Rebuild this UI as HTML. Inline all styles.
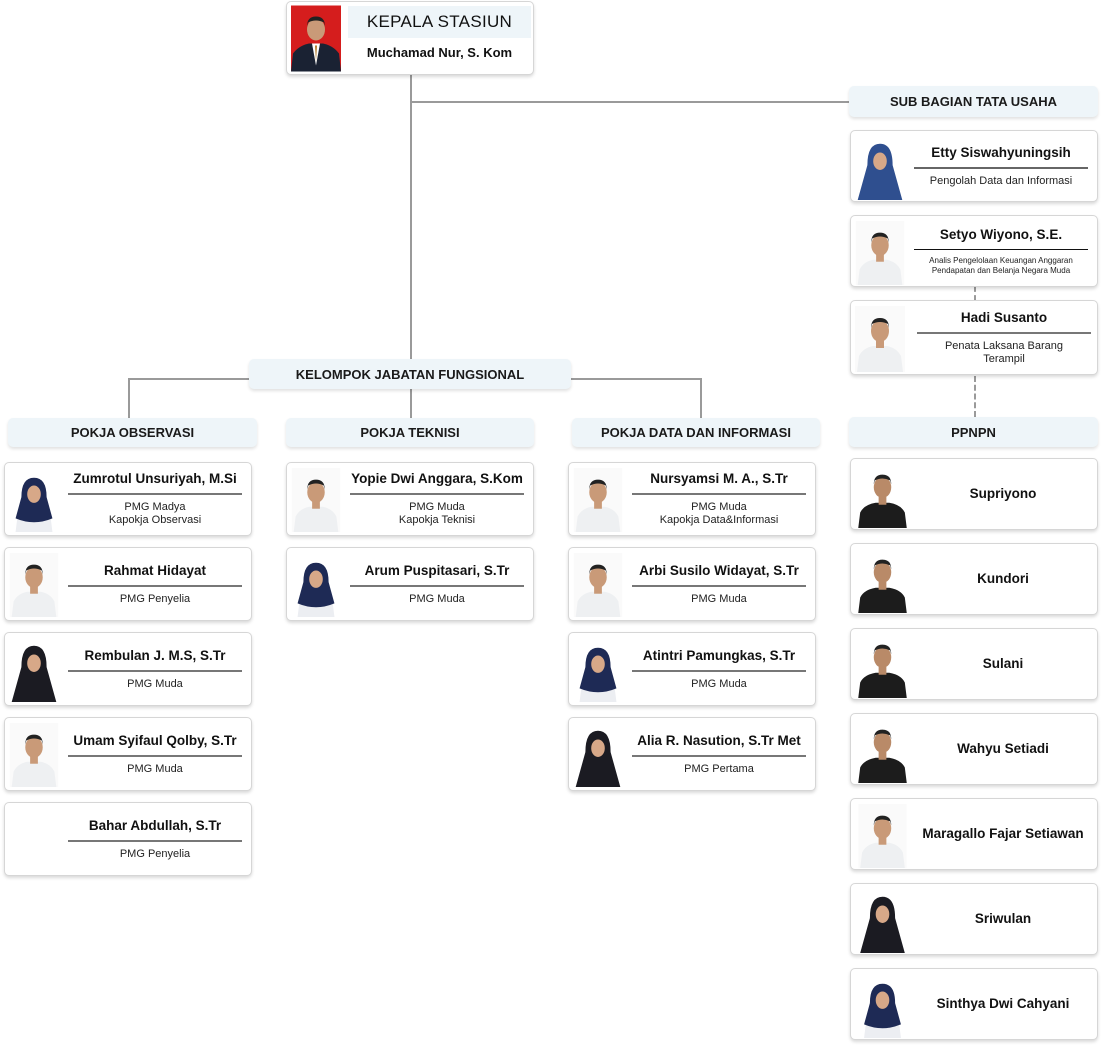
<!DOCTYPE html>
<html><head><meta charset="utf-8"><style>
*{box-sizing:border-box;margin:0;padding:0}
body{width:1102px;height:1049px;background:#fff;position:relative;font-family:"Liberation Sans",Arial,sans-serif;color:#111;overflow:hidden}
.ln{position:absolute;background:#9a9a9a}
.hd{position:absolute;background:#eef5f9;border-radius:5px;box-shadow:0 2px 3px rgba(0,0,0,.12);font-size:13px;font-weight:bold;display:flex;align-items:center;justify-content:center;color:#1a1a1a}
.c{position:absolute;width:248px;height:74px;background:#fff;border:1px solid #d6d6d6;border-radius:5px;box-shadow:0 2px 3px rgba(0,0,0,.15)}
.c svg{position:absolute;left:4px;top:5px}
.t{position:absolute;left:63px;right:9px;top:0;bottom:0;display:flex;flex-direction:column;justify-content:center;text-align:center}
.n{font-size:13.5px;font-weight:bold;line-height:16px;margin-bottom:6px;white-space:nowrap}
.r{height:2px;background:#777;margin-bottom:6px}
.s{font-size:11px;line-height:13px;color:#222}
.pp .t{left:58px;right:0}
.pp .n{margin:0}
</style></head><body>
<svg width="0" height="0" style="position:absolute">
<defs>
<symbol id="mw" viewBox="0 0 50 66"><rect width="50" height="66" fill="#fafafa"/><path d="M2 66 L4 50 Q8 42 18 40 L32 40 Q42 42 46 50 L48 66Z" fill="#eef0f2"/><rect x="21" y="34" width="8" height="8" fill="#c99a78"/><ellipse cx="25" cy="25" rx="9" ry="11" fill="#c99a78"/><path d="M16 22 Q16 12 25 12 Q34 12 34 22 L33 18 Q25 14 17 18Z" fill="#222"/></symbol>
<symbol id="mk" viewBox="0 0 50 66"><rect width="50" height="66" fill="#fff"/><path d="M0 66 L2 50 Q6 42 18 40 L32 40 Q44 42 48 50 L50 66Z" fill="#1c1c1c"/><rect x="21" y="34" width="8" height="8" fill="#b98a68"/><ellipse cx="25" cy="24" rx="9" ry="11" fill="#b98a68"/><path d="M16 21 Q16 11 25 11 Q34 11 34 21 L33 17 Q25 13 17 17Z" fill="#222"/></symbol>
<symbol id="hn" viewBox="0 0 50 66"><rect width="50" height="66" fill="#fff"/><path d="M6 66 L8 50 Q12 44 25 44 Q38 44 42 50 L44 66Z" fill="#eceef2"/><path d="M12 30 Q12 10 25 10 Q38 10 38 30 L44 52 Q25 60 6 52Z" fill="#1e2a55"/><ellipse cx="25" cy="27" rx="7" ry="9" fill="#d7a888"/></symbol>
<symbol id="hb" viewBox="0 0 50 66"><rect width="50" height="66" fill="#fff"/><path d="M12 30 Q12 8 25 8 Q38 8 38 30 L48 66 L2 66Z" fill="#2f4f8f"/><ellipse cx="25" cy="26" rx="7" ry="9" fill="#d7a888"/></symbol>
<symbol id="hk" viewBox="0 0 50 66"><rect width="50" height="66" fill="#fff"/><path d="M12 30 Q12 8 25 8 Q38 8 38 30 L48 66 L2 66Z" fill="#1b1b22"/><ellipse cx="25" cy="26" rx="7" ry="9" fill="#d7a888"/></symbol>
<symbol id="ks" viewBox="0 0 50 66"><rect width="50" height="66" fill="#d51d1d"/><path d="M0 66 L2 48 Q8 40 18 38 L32 38 Q42 40 48 48 L50 66Z" fill="#1a2233"/><path d="M21 38 L25 60 L29 38Z" fill="#fff"/><path d="M24 40 L25 56 L26 40Z" fill="#b07a2a"/><ellipse cx="25" cy="24" rx="9" ry="11" fill="#c99a78"/><path d="M16 21 Q16 11 25 11 Q34 11 34 21 L33 17 Q25 13 17 17Z" fill="#222"/></symbol>
</defs></svg>

<!-- lines -->
<div class="ln" style="left:410px;top:74px;width:2px;height:286px"></div>
<div class="ln" style="left:411px;top:101px;width:438px;height:2px"></div>
<div class="ln" style="left:128px;top:378px;width:121px;height:2px"></div>
<div class="ln" style="left:128px;top:378px;width:2px;height:40px"></div>
<div class="ln" style="left:571px;top:378px;width:131px;height:2px"></div>
<div class="ln" style="left:700px;top:378px;width:2px;height:40px"></div>
<div class="ln" style="left:410px;top:389px;width:2px;height:29px"></div>
<div style="position:absolute;left:974px;top:287px;height:13px;border-left:2px dashed #9a9a9a"></div>
<div style="position:absolute;left:974px;top:376px;height:41px;border-left:2px dashed #9a9a9a"></div>

<!-- top -->
<div class="c" style="left:286px;top:1px;height:74px">
<svg width="50" height="67" style="left:4px;top:3px"><use href="#ks"/></svg>
<div style="position:absolute;left:61px;top:4px;width:183px;height:32px;background:#eef5f9;font-size:17px;display:flex;align-items:center;justify-content:center;letter-spacing:.3px">KEPALA STASIUN</div>
<div style="position:absolute;left:61px;top:43px;width:183px;text-align:center;font-size:13px;font-weight:bold">Muchamad Nur, S. Kom</div>
</div>

<div class="hd" style="left:849px;top:86px;width:249px;height:31px">SUB BAGIAN TATA USAHA</div>
<div class="hd" style="left:249px;top:359px;width:322px;height:30px">KELOMPOK JABATAN FUNGSIONAL</div>
<div class="hd" style="left:8px;top:418px;width:249px;height:29px">POKJA OBSERVASI</div>
<div class="hd" style="left:286px;top:418px;width:248px;height:29px">POKJA TEKNISI</div>
<div class="hd" style="left:572px;top:418px;width:248px;height:29px">POKJA DATA DAN INFORMASI</div>
<div class="hd" style="left:849px;top:417px;width:249px;height:30px">PPNPN</div>

<!-- sub bagian -->
<div class="c" style="left:850px;top:130px;height:72px"><svg width="50" height="64"><use href="#hb"/></svg><div class="t"><div class="n">Etty Siswahyuningsih</div><div class="r" style="background:#666"></div><div class="s">Pengolah Data dan Informasi</div></div></div>
<div class="c" style="left:850px;top:215px;height:72px"><svg width="50" height="64"><use href="#mw"/></svg><div class="t"><div class="n">Setyo Wiyono, S.E.</div><div class="r" style="background:#111;height:1px"></div><div class="s" style="font-size:8px;line-height:10px">Analis Pengelolaan Keuangan Anggaran<br>Pendapatan dan Belanja Negara Muda</div></div></div>
<div class="c" style="left:850px;top:300px;height:75px"><svg width="50" height="66"><use href="#mw"/></svg><div class="t" style="left:66px;right:6px"><div class="n">Hadi Susanto</div><div class="r"></div><div class="s">Penata Laksana Barang<br>Terampil</div></div></div>

<!-- col1 -->
<div class="c" style="left:4px;top:462px"><svg width="50" height="64"><use href="#hn"/></svg><div class="t"><div class="n">Zumrotul Unsuriyah, M.Si</div><div class="r"></div><div class="s">PMG Madya<br>Kapokja Observasi</div></div></div>
<div class="c" style="left:4px;top:547px"><svg width="50" height="64"><use href="#mw"/></svg><div class="t"><div class="n">Rahmat Hidayat</div><div class="r"></div><div class="s">PMG Penyelia</div></div></div>
<div class="c" style="left:4px;top:632px"><svg width="50" height="64"><use href="#hk"/></svg><div class="t"><div class="n">Rembulan J. M.S, S.Tr</div><div class="r"></div><div class="s">PMG Muda</div></div></div>
<div class="c" style="left:4px;top:717px"><svg width="50" height="64"><use href="#mw"/></svg><div class="t"><div class="n">Umam Syifaul Qolby, S.Tr</div><div class="r"></div><div class="s">PMG Muda</div></div></div>
<div class="c" style="left:4px;top:802px"><div class="t"><div class="n">Bahar Abdullah, S.Tr</div><div class="r"></div><div class="s">PMG Penyelia</div></div></div>

<!-- col2 -->
<div class="c" style="left:286px;top:462px"><svg width="50" height="64"><use href="#mw"/></svg><div class="t"><div class="n">Yopie Dwi Anggara, S.Kom</div><div class="r"></div><div class="s">PMG Muda<br>Kapokja Teknisi</div></div></div>
<div class="c" style="left:286px;top:547px"><svg width="50" height="64"><use href="#hn"/></svg><div class="t"><div class="n">Arum Puspitasari, S.Tr</div><div class="r"></div><div class="s">PMG Muda</div></div></div>

<!-- col3 -->
<div class="c" style="left:568px;top:462px"><svg width="50" height="64"><use href="#mw"/></svg><div class="t"><div class="n">Nursyamsi M. A., S.Tr</div><div class="r"></div><div class="s">PMG Muda<br>Kapokja Data&amp;Informasi</div></div></div>
<div class="c" style="left:568px;top:547px"><svg width="50" height="64"><use href="#mw"/></svg><div class="t"><div class="n">Arbi Susilo Widayat, S.Tr</div><div class="r"></div><div class="s">PMG Muda</div></div></div>
<div class="c" style="left:568px;top:632px"><svg width="50" height="64"><use href="#hn"/></svg><div class="t"><div class="n">Atintri Pamungkas, S.Tr</div><div class="r"></div><div class="s">PMG Muda</div></div></div>
<div class="c" style="left:568px;top:717px"><svg width="50" height="64"><use href="#hk"/></svg><div class="t"><div class="n">Alia R. Nasution, S.Tr Met</div><div class="r"></div><div class="s">PMG Pertama</div></div></div>

<!-- ppnpn -->
<div class="c pp" style="left:850px;top:458px;height:72px"><svg width="55" height="64"><use href="#mk"/></svg><div class="t"><div class="n">Supriyono</div></div></div>
<div class="c pp" style="left:850px;top:543px;height:72px"><svg width="55" height="64"><use href="#mk"/></svg><div class="t"><div class="n">Kundori</div></div></div>
<div class="c pp" style="left:850px;top:628px;height:72px"><svg width="55" height="64"><use href="#mk"/></svg><div class="t"><div class="n">Sulani</div></div></div>
<div class="c pp" style="left:850px;top:713px;height:72px"><svg width="55" height="64"><use href="#mk"/></svg><div class="t"><div class="n">Wahyu Setiadi</div></div></div>
<div class="c pp" style="left:850px;top:798px;height:72px"><svg width="55" height="64"><use href="#mw"/></svg><div class="t"><div class="n">Maragallo Fajar Setiawan</div></div></div>
<div class="c pp" style="left:850px;top:883px;height:72px"><svg width="55" height="64"><use href="#hk"/></svg><div class="t"><div class="n">Sriwulan</div></div></div>
<div class="c pp" style="left:850px;top:968px;height:72px"><svg width="55" height="64"><use href="#hn"/></svg><div class="t"><div class="n">Sinthya Dwi Cahyani</div></div></div>
</body></html>
